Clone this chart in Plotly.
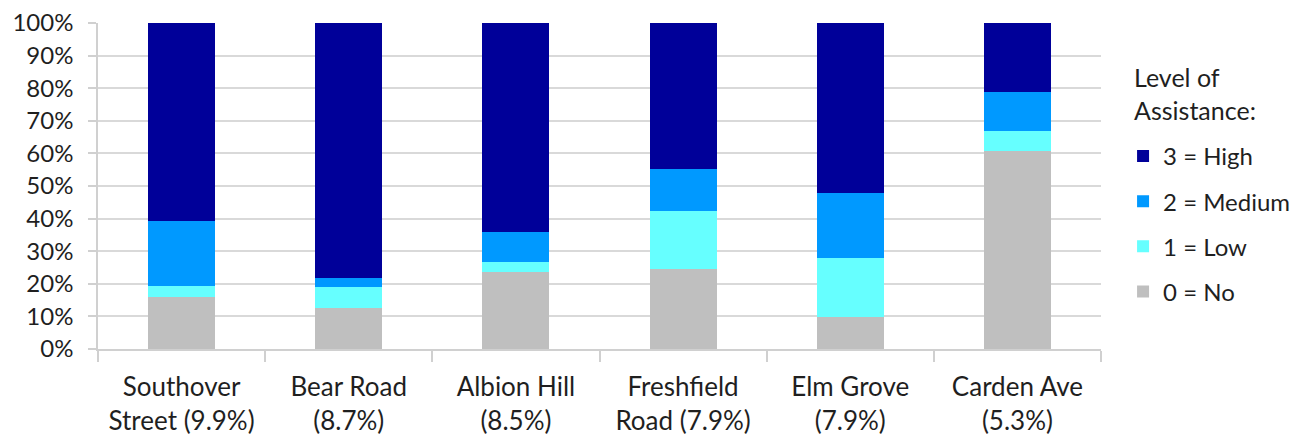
import plotly.graph_objects as go

# Share of people by level of assistance, per area (percent of area total)
areas = ["Southover<br>Street (9.9%)", "Bear Road<br>(8.7%)", "Albion Hill<br>(8.5%)",
         "Freshfield<br>Road (7.9%)", "Elm Grove<br>(7.9%)", "Carden Ave<br>(5.3%)"]
no_help = [15.9, 12.6, 23.7, 24.5, 9.7, 60.7]
low = [3.3, 6.3, 3.1, 17.9, 18.3, 6.3]
medium = [20.2, 2.9, 9.0, 12.8, 19.8, 11.9]
high = [60.6, 78.2, 64.2, 44.8, 52.2, 21.1]

# (legend label, values, colour, legend rank) - stacked bottom to top
series = [
    ("0 = No", no_help, "#bfbfbf", 4),
    ("1 = Low", low, "#66ffff", 3),
    ("2 = Medium", medium, "#0099ff", 2),
    ("3 = High", high, "#000099", 1),
]

font_family = "Lato, 'Open Sans', sans-serif"
text_color = "#1f1f1f"

fig = go.Figure()
for name, vals, color, rank in series:
    fig.add_trace(go.Bar(
        x=areas, y=vals, name=name, legendgroup=name, legendrank=rank,
        marker=dict(color=color, line=dict(width=0)),
    ))

fig.update_layout(
    barmode="stack",
    bargap=0.6,
    width=1299, height=439,
    margin=dict(l=98, r=198, t=23, b=90, autoexpand=False),
    paper_bgcolor="white",
    plot_bgcolor="white",
    font=dict(family=font_family, size=23, color=text_color),
    legend=dict(
        traceorder="grouped",
        tracegroupgap=11,
        font=dict(size=24),
        x=1.022, xanchor="left",
        y=0.66, yanchor="top",
        bgcolor="rgba(0,0,0,0)",
    ),
    showlegend=True,
    annotations=[dict(
        text="Level of<br>Assistance:", xref="paper", yref="paper",
        x=1.031, y=0.785, xanchor="left", yanchor="middle", align="left",
        showarrow=False, font=dict(size=25),
    )],
)

fig.update_yaxes(
    range=[0, 100], dtick=10, ticksuffix="%",
    showgrid=True, gridcolor="#d9d9d9", gridwidth=1.5,
    showline=True, linecolor="#d0d0d0", linewidth=1.5,
    ticks="outside", ticklen=8, tickcolor="#d0d0d0", tickwidth=1.5,
    ticklabelstandoff=10,
    zeroline=False, automargin=False,
    tickfont=dict(size=24),
)
fig.update_xaxes(
    showline=True, linecolor="#d0d0d0", linewidth=1.5,
    ticks="outside", tickson="boundaries", ticklen=11,
    tickcolor="#d0d0d0", tickwidth=1.5,
    ticklabelstandoff=14, automargin=False,
    tickfont=dict(size=26),
)

fig.write_html("out.html")
